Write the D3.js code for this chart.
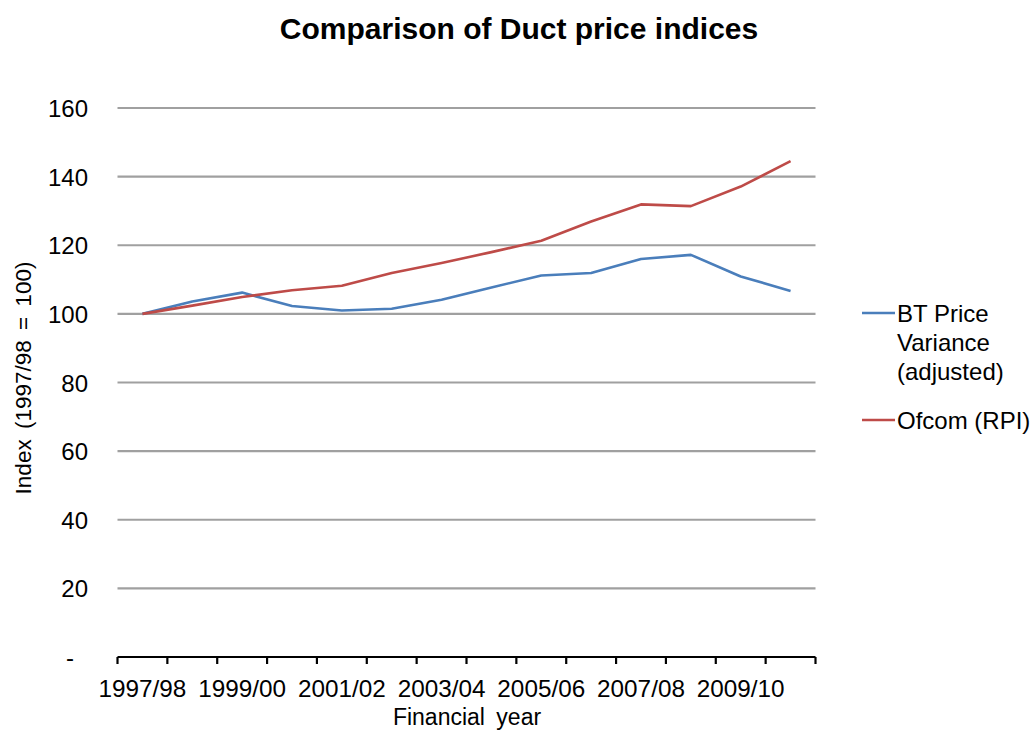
<!DOCTYPE html>
<html>
<head>
<meta charset="utf-8">
<script src="https://cdn.jsdelivr.net/npm/d3@7"></script>
<style>
  body { margin: 0; background: #fff; }
  text { font-family: "Liberation Sans", Arial, sans-serif; fill: #000; }
</style>
</head>
<body>
<svg id="chart" width="1036" height="731"></svg>
<script>
// data
var years = ["1997/98","1998/99","1999/00","2000/01","2001/02","2002/03","2003/04",
             "2004/05","2005/06","2006/07","2007/08","2008/09","2009/10","2010/11"];
var btValues = [100, 103.6, 106.2, 102.3, 101.0, 101.5, 104.1, 107.7, 111.2, 111.9, 116.0, 117.2, 110.9, 106.7];
var rpiValues = [100, 102.4, 104.9, 106.9, 108.2, 111.9, 114.8, 118.0, 121.3, 126.9, 131.9, 131.4, 137.1, 144.5];
var yTicks = [0, 20, 40, 60, 80, 100, 120, 140, 160];
var seriesNames = ["BT Price Variance (adjusted)", "Ofcom (RPI)"];
var seriesColors = ["#4a7ebb", "#be4b48"];

var svg = d3.select("#chart");

// plot area
var plotLeft = 117.5, plotRight = 815.5, plotTop = 108, plotBottom = 657;

var x = d3.scaleBand().domain(years).range([plotLeft, plotRight]).padding(0);
var y = d3.scaleLinear().domain([0, 160]).range([plotBottom, plotTop]);

// title
svg.append("text")
  .attr("x", 519).attr("y", 39)
  .attr("text-anchor", "middle")
  .style("font-size", "30px").style("font-weight", "bold")
  .text("Comparison of Duct price indices");

// gridlines
svg.append("g")
  .selectAll("line")
  .data(yTicks.filter(function(d) { return d > 0; }))
  .enter().append("line")
  .attr("x1", plotLeft).attr("x2", plotRight)
  .attr("y1", function(d) { return y(d); })
  .attr("y2", function(d) { return y(d); })
  .attr("stroke", "#a0a0a0")
  .attr("stroke-width", 2.2);

// y tick labels (zero is shown as a dash, a little further left)
svg.append("g")
  .selectAll("text")
  .data(yTicks)
  .enter().append("text")
  .attr("x", function(d) { return d === 0 ? 74 : 88; })
  .attr("y", function(d) { return y(d) + 9; })
  .attr("text-anchor", "end")
  .style("font-size", "24px")
  .text(function(d) { return d === 0 ? "-" : d; });

// x axis with ticks at category boundaries
var xAxis = svg.append("g")
  .attr("transform", "translate(0," + plotBottom + ")");
xAxis.append("line")
  .attr("x1", plotLeft).attr("x2", plotRight)
  .attr("stroke", "#000").attr("stroke-width", 2.2);
var boundaries = years.map(function(d) { return x(d); }).concat([x(years[years.length - 1]) + x.bandwidth()]);
xAxis.selectAll("line.tick")
  .data(boundaries)
  .enter().append("line")
  .attr("class", "tick")
  .attr("x1", function(d) { return d; }).attr("x2", function(d) { return d; })
  .attr("y1", 0).attr("y2", 7)
  .attr("stroke", "#000").attr("stroke-width", 2.2);
xAxis.selectAll("text")
  .data(years.filter(function(d, i) { return i % 2 === 0; }))
  .enter().append("text")
  .attr("x", function(d) { return x(d) + x.bandwidth() / 2; })
  .attr("y", 40)
  .attr("text-anchor", "middle")
  .style("font-size", "24.3px")
  .text(function(d) { return d; });

// axis titles
svg.append("text")
  .attr("x", 467).attr("y", 725)
  .attr("text-anchor", "middle")
  .style("font-size", "23px")
  .style("word-spacing", "5px")
  .text("Financial year");

svg.append("text")
  .attr("transform", "translate(31,378) rotate(-90)")
  .attr("text-anchor", "middle")
  .style("font-size", "22.5px")
  .style("word-spacing", "4px")
  .text("Index (1997/98 = 100)");

// lines
var line = d3.line()
  .x(function(d, i) { return x(years[i]) + x.bandwidth() / 2; })
  .y(function(d) { return y(d); });

[btValues, rpiValues].forEach(function(vals, k) {
  svg.append("path")
    .datum(vals)
    .attr("d", line)
    .attr("fill", "none")
    .attr("stroke", seriesColors[k])
    .attr("stroke-width", 2.6)
    .attr("stroke-linejoin", "round");
});

// legend
var legend = svg.append("g");
var legendRows = [
  { y: 313, lines: ["BT Price", "Variance", "(adjusted)"], color: seriesColors[0] },
  { y: 420, lines: ["Ofcom (RPI)"], color: seriesColors[1] }
];
legendRows.forEach(function(r) {
  legend.append("line")
    .attr("x1", 862).attr("x2", 895)
    .attr("y1", r.y).attr("y2", r.y)
    .attr("stroke", r.color).attr("stroke-width", 2.6);
  legend.append("text")
    .attr("x", 897)
    .attr("y", r.y + 9)
    .style("font-size", "24px")
    .selectAll("tspan")
    .data(r.lines)
    .enter().append("tspan")
    .attr("x", 897)
    .attr("dy", function(d, i) { return i === 0 ? 0 : 29; })
    .text(function(d) { return d; });
});
</script>
</body>
</html>
